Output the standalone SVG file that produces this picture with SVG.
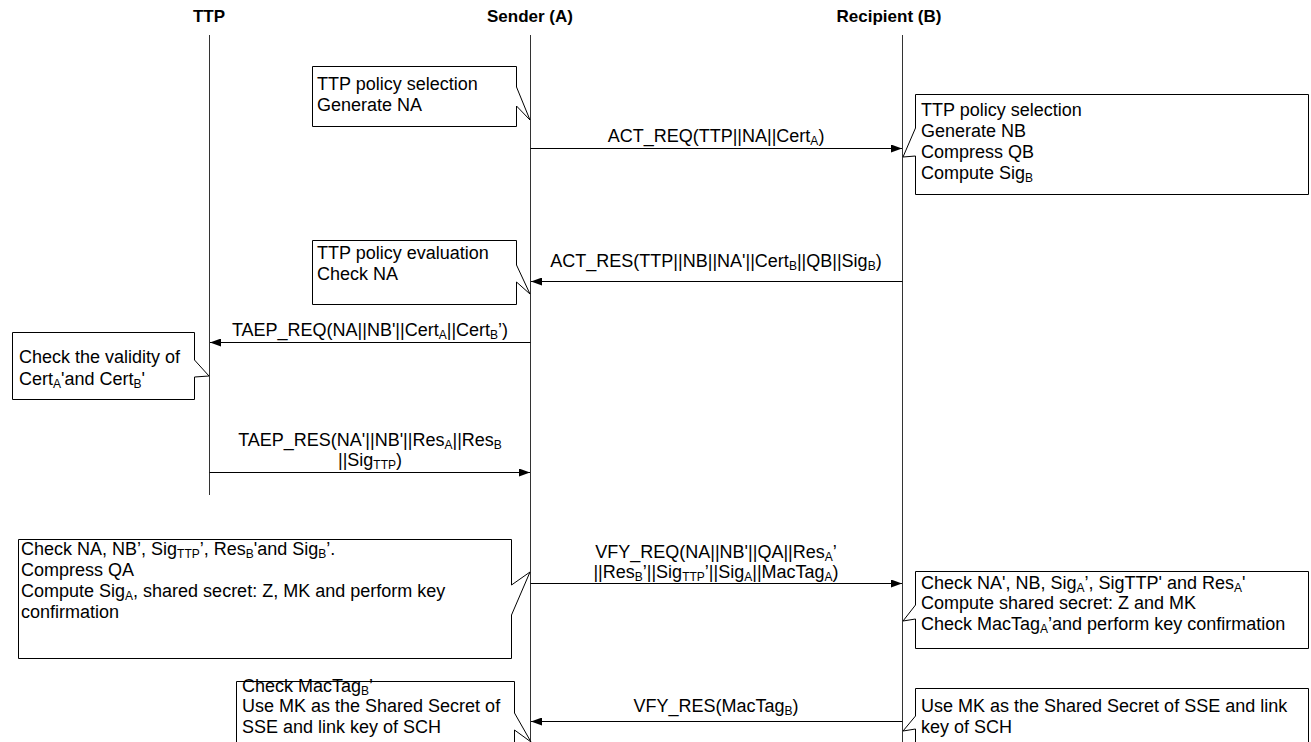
<svg xmlns="http://www.w3.org/2000/svg" width="1311" height="742" viewBox="0 0 1311 742">
<style>
text{font-family:"Liberation Sans",Arial,sans-serif;font-size:18px;fill:#000}
.hd{font-weight:bold;font-size:17px;text-anchor:middle}
.lbl{text-anchor:middle}
.sub{font-size:12px}
.life{stroke:#333;stroke-width:1;fill:none}
.msg{stroke:#000;stroke-width:1;fill:none;marker-end:url(#arr)}
.box{fill:#fff;stroke:#000;stroke-width:1}
</style>
<defs>
<marker id="arr" markerUnits="userSpaceOnUse" markerWidth="11" markerHeight="8" refX="11" refY="4" orient="auto">
<path d="M0,0 L11,4 L0,8 Z" fill="#000"/>
</marker>
</defs>
<rect width="1311" height="742" fill="#fff"/>

<g id="lifelines">
<line class="life" x1="209.5" y1="35" x2="209.5" y2="495"/>
<line class="life" x1="530.5" y1="35" x2="530.5" y2="742"/>
<line class="life" x1="902.5" y1="35" x2="902.5" y2="742"/>
</g>

<g id="headers">
<text class="hd" x="209" y="22">TTP</text>
<text class="hd" x="530" y="22">Sender (A)</text>
<text class="hd" x="889" y="22">Recipient (B)</text>
</g>

<g id="connectors">
<line class="msg" x1="530.5" y1="148.5" x2="902" y2="148.5"/>
<line class="msg" x1="902.5" y1="281.5" x2="531" y2="281.5"/>
<line class="msg" x1="530.5" y1="342.5" x2="210" y2="342.5"/>
<line class="msg" x1="209.5" y1="472.5" x2="530" y2="472.5"/>
<line class="msg" x1="530.5" y1="583.5" x2="902" y2="583.5"/>
<line class="msg" x1="902.5" y1="721.5" x2="531" y2="721.5"/>
<text class="lbl" x="716" y="142">ACT_REQ(TTP||NA||Cert<tspan class="sub" dy="3">A</tspan><tspan dy="-3">)</tspan></text>
<text class="lbl" x="716" y="267">ACT_RES(TTP||NB||NA'||Cert<tspan class="sub" dy="3">B</tspan><tspan dy="-3">||QB||Sig</tspan><tspan class="sub" dy="3">B</tspan><tspan dy="-3">)</tspan></text>
<text class="lbl" x="370" y="336">TAEP_REQ(NA||NB'||Cert<tspan class="sub" dy="3">A</tspan><tspan dy="-3">||Cert</tspan><tspan class="sub" dy="3">B</tspan><tspan dy="-3">’)</tspan></text>
<text class="lbl" x="370" y="446">TAEP_RES(NA'||NB'||Res<tspan class="sub" dy="3">A</tspan><tspan dy="-3">||Res</tspan><tspan class="sub" dy="3">B</tspan></text>
<text class="lbl" x="370" y="466">||Sig<tspan class="sub" dy="3">TTP</tspan><tspan dy="-3">)</tspan></text>
<text class="lbl" x="716" y="558">VFY_REQ(NA||NB'||QA||Res<tspan class="sub" dy="3">A</tspan><tspan dy="-3">’</tspan></text>
<text class="lbl" x="716" y="578">||Res<tspan class="sub" dy="3">B</tspan><tspan dy="-3">’||Sig</tspan><tspan class="sub" dy="3">TTP</tspan><tspan dy="-3">’||Sig</tspan><tspan class="sub" dy="3">A</tspan><tspan dy="-3">||MacTag</tspan><tspan class="sub" dy="3">A</tspan><tspan dy="-3">)</tspan></text>
<text class="lbl" x="716" y="712">VFY_RES(MacTag<tspan class="sub" dy="3">B</tspan><tspan dy="-3">)</tspan></text>
</g>

<g id="note-a1">
<path class="box" d="M312.5,66.5 H516.5 V87 L530,120 L516.5,106 V126.5 H312.5 Z"/>
<text x="317" y="90">TTP policy selection</text>
<text x="317" y="111">Generate NA</text>
</g>

<g id="note-b1">
<path class="box" d="M915.5,94.5 H1308.5 V194.5 H915.5 V156 L903,157 L915.5,128 Z"/>
<text x="921" y="116">TTP policy selection</text>
<text x="921" y="137">Generate NB</text>
<text x="921" y="158">Compress QB</text>
<text x="921" y="179">Compute Sig<tspan class="sub" dy="3">B</tspan></text>
</g>

<g id="note-a2">
<path class="box" d="M312.5,240.5 H516.5 V265 L530,294 L516.5,282 V304.5 H312.5 Z"/>
<text x="317" y="259">TTP policy evaluation</text>
<text x="317" y="280">Check NA</text>
</g>

<g id="note-ttp">
<path class="box" d="M12.5,332.5 H194.5 V360 L209,376 L194.5,377 V399.5 H12.5 Z"/>
<text x="19" y="363">Check the validity of</text>
<text x="19" y="385">Cert<tspan class="sub" dy="3">A</tspan><tspan dy="-3">'and Cert</tspan><tspan class="sub" dy="3">B</tspan><tspan dy="-3">'</tspan></text>
</g>

<g id="note-a3">
<path class="box" d="M18.5,539.5 H511.5 V585 L530,572 L511.5,615 V658.5 H18.5 Z"/>
<text x="21" y="555">Check NA, NB’, Sig<tspan class="sub" dy="3">TTP</tspan><tspan dy="-3">’, Res</tspan><tspan class="sub" dy="3">B</tspan><tspan dy="-3">'and Sig</tspan><tspan class="sub" dy="3">B</tspan><tspan dy="-3">’.</tspan></text>
<text x="21" y="576">Compress QA</text>
<text x="21" y="597">Compute Sig<tspan class="sub" dy="3">A</tspan><tspan dy="-3">, shared secret: Z, MK and perform key</tspan></text>
<text x="21" y="618">confirmation</text>
</g>

<g id="note-b2">
<path class="box" d="M915.5,571.5 H1308.5 V648.5 H915.5 V619 L903,621 L915.5,605 Z"/>
<text x="921" y="589">Check NA', NB, Sig<tspan class="sub" dy="3">A</tspan><tspan dy="-3">’, SigTTP' and Res</tspan><tspan class="sub" dy="3">A</tspan><tspan dy="-3">'</tspan></text>
<text x="921" y="609">Compute shared secret: Z and MK</text>
<text x="921" y="630">Check MacTag<tspan class="sub" dy="3">A</tspan><tspan dy="-3">’and perform key confirmation</tspan></text>
</g>

<g id="note-a4">
<path class="box" d="M236.5,681.5 H514.5 V713 L531,742 L514.5,730 V760 H236.5 Z"/>
<text x="242" y="692">Check MacTag<tspan class="sub" dy="3">B</tspan><tspan dy="-3">’</tspan></text>
<text x="242" y="712">Use MK as the Shared Secret of</text>
<text x="242" y="733">SSE and link key of SCH</text>
</g>

<g id="note-b3">
<path class="box" d="M915.5,688.5 H1308.5 V760 H915.5 V729 L903,731 L915.5,716 Z"/>
<text x="921" y="712">Use MK as the Shared Secret of SSE and link</text>
<text x="921" y="733">key of SCH</text>
</g>
</svg>
